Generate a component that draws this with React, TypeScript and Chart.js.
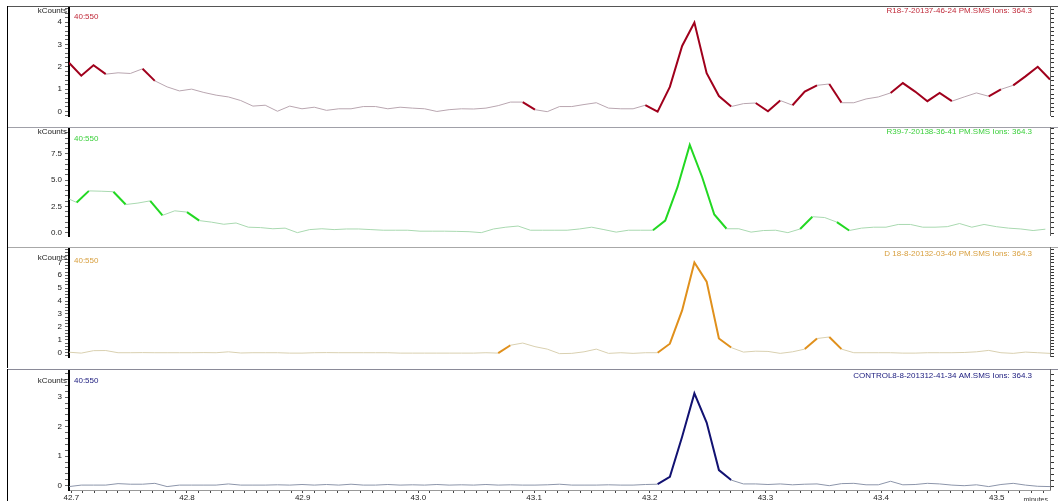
import React, { useEffect, useRef } from 'react';
import { Chart, registerables } from 'chart.js';

Chart.register(...registerables);

const FONT_FAMILY = '"Liberation Sans", Arial, sans-serif';

// Retention time (minutes) of each scan
const TIME_A = [
  42.6980, 42.7086, 42.7192, 42.7298, 42.7404, 42.7510, 42.7616, 42.7722, 42.7828, 42.7934,
  42.8040, 42.8146, 42.8252, 42.8358, 42.8464, 42.8570, 42.8676, 42.8782, 42.8888, 42.8994,
  42.9100, 42.9206, 42.9312, 42.9418, 42.9524, 42.9630, 42.9736, 42.9842, 42.9948, 43.0054,
  43.0160, 43.0266, 43.0372, 43.0478, 43.0584, 43.0690, 43.0796, 43.0902, 43.1008, 43.1114,
  43.1220, 43.1326, 43.1432, 43.1538, 43.1644, 43.1750, 43.1856, 43.1962, 43.2068, 43.2174,
  43.2280, 43.2386, 43.2492, 43.2598, 43.2704, 43.2810, 43.2916, 43.3022, 43.3128, 43.3234,
  43.3340, 43.3446, 43.3552, 43.3658, 43.3764, 43.3870, 43.3976, 43.4082, 43.4188, 43.4294,
  43.4400, 43.4506, 43.4612, 43.4718, 43.4824, 43.4930, 43.5036, 43.5142, 43.5248, 43.5354,
  43.5460,
];

const TIME_B = [
  42.6940, 42.7046, 42.7152, 42.7258, 42.7364, 42.7470, 42.7576, 42.7682, 42.7788, 42.7894,
  42.8000, 42.8106, 42.8212, 42.8318, 42.8424, 42.8530, 42.8636, 42.8742, 42.8848, 42.8954,
  42.9060, 42.9166, 42.9272, 42.9378, 42.9484, 42.9590, 42.9696, 42.9802, 42.9908, 43.0014,
  43.0120, 43.0226, 43.0332, 43.0438, 43.0544, 43.0650, 43.0756, 43.0862, 43.0968, 43.1074,
  43.1180, 43.1286, 43.1392, 43.1498, 43.1604, 43.1710, 43.1816, 43.1922, 43.2028, 43.2134,
  43.2240, 43.2346, 43.2452, 43.2558, 43.2664, 43.2770, 43.2876, 43.2982, 43.3088, 43.3194,
  43.3300, 43.3406, 43.3512, 43.3618, 43.3724, 43.3830, 43.3936, 43.4042, 43.4148, 43.4254,
  43.4360, 43.4466, 43.4572, 43.4678, 43.4784, 43.4890, 43.4996, 43.5102, 43.5208, 43.5314,
  43.5420,
];

// kCounts per trace
const R18_COUNTS = [
  2.18, 1.6, 2.07, 1.67, 1.73, 1.7, 1.91, 1.37, 1.1, 0.92,
  1.0, 0.85, 0.73, 0.65, 0.49, 0.24, 0.28, 0.01, 0.24, 0.12,
  0.19, 0.05, 0.12, 0.12, 0.22, 0.22, 0.12, 0.19, 0.15, 0.12,
  0.0, 0.08, 0.12, 0.11, 0.15, 0.26, 0.42, 0.42, 0.08, -0.01,
  0.22, 0.22, 0.31, 0.39, 0.15, 0.12, 0.12, 0.28, -0.01, 1.1,
  2.93, 3.98, 1.71, 0.69, 0.22, 0.35, 0.38, 0.01, 0.49, 0.28,
  0.89, 1.17, 1.23, 0.39, 0.39, 0.56, 0.65, 0.83, 1.27, 0.89,
  0.46, 0.83, 0.46, 0.65, 0.83, 0.68, 0.99, 1.17, 1.57, 2.0,
  1.43,
];

const R39_COUNTS = [
  3.4, 2.88, 3.98, 3.95, 3.9, 2.68, 2.82, 3.03, 1.65, 2.08,
  1.96, 1.15, 1.0, 0.8, 0.92, 0.52, 0.48, 0.37, 0.43, 0.0,
  0.29, 0.37, 0.29, 0.35, 0.35, 0.29, 0.23, 0.23, 0.23, 0.14,
  0.14, 0.14, 0.12, 0.09, 0.0, 0.35, 0.52, 0.63, 0.23, 0.23,
  0.23, 0.23, 0.35, 0.52, 0.29, 0.05, 0.23, 0.23, 0.23, 1.15,
  4.33, 8.36, 5.33, 1.73, 0.37, 0.37, 0.05, 0.2, 0.23, 0.0,
  0.35, 1.52, 1.44, 1.0, 0.2, 0.43, 0.52, 0.52, 0.78, 0.78,
  0.52, 0.52, 0.57, 0.87, 0.52, 0.78, 0.57, 0.43, 0.35, 0.2,
  0.33,
];

const D18_COUNTS = [
  0.04, -0.03, 0.16, 0.17, 0.0, 0.0, 0.01, 0.0, 0.0, 0.0,
  0.0, 0.01, 0.0, 0.07, -0.02, 0.0, 0.0, 0.0, -0.03, -0.03,
  0.0, 0.01, 0.0, 0.0, 0.0, 0.0, 0.0, -0.03, -0.03, -0.03,
  -0.03, -0.03, -0.03, -0.03, 0.0, -0.03, 0.58, 0.75, 0.47, 0.28,
  -0.07, -0.05, 0.07, 0.28, -0.05, 0.0, -0.05, 0.0, 0.0, 0.7,
  3.28, 6.99, 5.51, 1.1, 0.4, 0.05, 0.12, 0.1, -0.05, 0.07,
  0.28, 1.1, 1.22, 0.28, 0.0, 0.0, 0.0, 0.0, -0.03, -0.03,
  0.0, 0.0, 0.0, 0.02, 0.07, 0.18, 0.0, -0.05, 0.05, 0.0,
  -0.05,
];

const CONTROL_COUNTS = [
  -0.03, 0.02, 0.02, 0.02, 0.07, 0.05, 0.05, 0.08, -0.03, 0.02,
  0.02, 0.02, 0.02, 0.06, 0.02, 0.02, 0.02, 0.03, 0.02, 0.04,
  0.02, 0.04, 0.02, 0.05, 0.02, 0.02, 0.04, 0.02, 0.03, 0.02,
  0.04, 0.02, 0.03, 0.02, 0.04, 0.02, 0.03, 0.02, 0.02, 0.03,
  0.05, 0.02, 0.02, 0.02, 0.03, 0.02, 0.02, 0.04, 0.05, 0.3,
  1.66, 3.13, 2.14, 0.53, 0.19, 0.06, 0.06, 0.04, 0.06, 0.03,
  0.05, 0.06, 0.0, 0.07, 0.08, 0.03, 0.03, 0.15, 0.03, 0.04,
  0.08, 0.06, 0.02, 0.0, 0.03, -0.03, 0.04, 0.08, 0.02, -0.02,
  -0.03,
];

const X_TICK_LABELS = ['42.7', '42.8', '42.9', '43.0', '43.1', '43.2', '43.3', '43.4', '43.5'];
const TRACE_TITLES = [
  'R18-7-20137-46-24 PM.SMS Ions: 364.3',
  'R39-7-20138-36-41 PM.SMS Ions: 364.3',
  'D 18-8-20132-03-40 PM.SMS Ions: 364.3',
  'CONTROL8-8-201312-41-34 AM.SMS Ions: 364.3',
];
const MASS_LABEL = '40:550';
const Y_UNIT = 'kCounts';
const X_UNIT = 'minutes';

const X_MIN = 42.698;
const X_MAX = 43.546;

type PanelCfg = {
  times: number[];
  values: number[];
  title: string;
  dark: string;
  light: string;
  text: string;
  min: number;
  max: number;
  minor: number;
  major: number;
  maxLabel: number;
  dec: number;
  top: number;
  height: number;
  padTop: number;
  kDy: number;
  tagDy: number;
  titleDy: number;
  topLine: string;
  showX: boolean;
};

const PANELS: PanelCfg[] = [
  {
    times: TIME_A, values: R18_COUNTS, title: TRACE_TITLES[0],
    dark: '#a0001c', light: '#b9a6b0', text: '#c02a3a',
    min: -0.203, max: 4.675, minor: 0.2, major: 1, maxLabel: 4, dec: 0,
    top: 6, height: 121, padTop: 1, kDy: 4, tagDy: 10, titleDy: 4, topLine: '#555', showX: false,
  },
  {
    times: TIME_B, values: R39_COUNTS, title: TRACE_TITLES[1],
    dark: '#22d822', light: '#a9d9b0', text: '#3cd03c',
    min: -0.32, max: 10.07, minor: 0.5, major: 2.5, maxLabel: 7.5, dec: 1,
    top: 127, height: 120, padTop: 0, kDy: 5, tagDy: 12, titleDy: 5, topLine: '#a0a0a8', showX: false,
  },
  {
    times: TIME_A, values: D18_COUNTS, title: TRACE_TITLES[2],
    dark: '#e0901c', light: '#d9d0b0', text: '#d8a040',
    min: -0.331, max: 8.19, minor: 0.25, major: 1, maxLabel: 7, dec: 0,
    top: 247, height: 121, padTop: 0, kDy: 11, tagDy: 14, titleDy: 7, topLine: '#a8a8a8', showX: false,
  },
  {
    times: TIME_A, values: CONTROL_COUNTS, title: TRACE_TITLES[3],
    dark: '#121272', light: '#8c95aa', text: '#202080',
    min: -0.146, max: 3.956, minor: 0.2, major: 1, maxLabel: 3, dec: 0,
    top: 369, height: 132, padTop: 0, kDy: 12, tagDy: 12, titleDy: 7, topLine: '#8a8a98', showX: true,
  },
];

function isMultiple(v: number, step: number) {
  const q = v / step;
  return Math.abs(q - Math.round(q)) < 1e-6;
}

function decorPlugin(p: PanelCfg) {
  return {
    id: 'decor',
    afterDraw(chart: any) {
      const { ctx, chartArea: a, scales } = chart;
      const y = scales.y;
      ctx.save();
      // separator / frame
      ctx.fillStyle = p.topLine;
      ctx.fillRect(7, Math.max(0, a.top - 1), chart.width - 7, 1);
      ctx.fillStyle = '#000';
      ctx.fillRect(7, 0, 1, chart.height);
      // right axis with ticks
      ctx.fillStyle = '#666';
      ctx.fillRect(a.right, a.top, 1, a.bottom - a.top);
      ctx.fillStyle = '#333';
      for (const t of y.ticks) {
        const py = Math.round(y.getPixelForValue(t.value));
        ctx.fillRect(a.right + 1, py, 3, 1);
      }
      // texts
      ctx.font = `8px ${FONT_FAMILY}`;
      ctx.textBaseline = 'middle';
      ctx.fillStyle = '#222';
      ctx.textAlign = 'right';
      ctx.fillText(Y_UNIT, 67, a.top + p.kDy);
      ctx.fillStyle = p.text;
      ctx.textAlign = 'left';
      ctx.fillText(MASS_LABEL, 74, a.top + p.tagDy);
      ctx.textAlign = 'right';
      ctx.fillText(p.title, 1032, a.top + p.titleDy);
      if (p.showX) {
        ctx.fillStyle = '#333';
        ctx.font = `7px ${FONT_FAMILY}`;
        ctx.textAlign = 'right';
        ctx.textBaseline = 'top';
        ctx.fillText(X_UNIT, 1048, chart.height - 4);
      }
      ctx.restore();
    },
  };
}

function makeChart(canvas: HTMLCanvasElement, p: PanelCfg) {
  const steep = (c: any) =>
    Math.abs(c.p1.y - c.p0.y) > 0.5 * Math.max(1, Math.abs(c.p1.x - c.p0.x));
  return new Chart(canvas, {
    type: 'line',
    data: {
      datasets: [
        {
          data: p.times.map((t, i) => ({ x: t, y: p.values[i] })),
          borderColor: p.dark,
          borderWidth: 1,
          pointRadius: 0,
          tension: 0,
          fill: false,
          clip: { left: 0, right: 0, top: 2, bottom: 2 } as any,
          segment: {
            borderColor: (c: any) => (steep(c) ? p.dark : p.light),
            borderWidth: (c: any) => (steep(c) ? 2 : 1),
          },
        } as any,
      ],
    },
    options: {
      animation: false,
      responsive: false,
      events: [],
      layout: { padding: { left: 0, right: 8, top: p.padTop, bottom: 0 } },
      plugins: {
        legend: { display: false },
        tooltip: { enabled: false },
        title: { display: false },
      },
      scales: {
        x: {
          type: 'linear',
          display: p.showX,
          min: X_MIN,
          max: X_MAX,
          ticks: {
            stepSize: 0.01,
            includeBounds: false,
            autoSkip: false,
            maxRotation: 0,
            minRotation: 0,
            padding: 0,
            color: '#222',
            font: { size: 8, family: FONT_FAMILY },
            callback: (v: any) => {
              const n = Number(v);
              if (!isMultiple(n, 0.1)) return '';
              const s = (Math.round(n * 10) / 10).toFixed(1);
              return X_TICK_LABELS.includes(s) ? s : '';
            },
          },
          grid: { drawOnChartArea: false, drawTicks: true, tickLength: 3, color: '#444' },
          border: { display: true, color: '#999', width: 1 },
          afterFit: (s: any) => {
            s.height = 11;
            s.paddingLeft = 0;
            s.paddingRight = 0;
          },
        },
        y: {
          type: 'linear',
          min: p.min,
          max: p.max,
          ticks: {
            stepSize: p.minor,
            includeBounds: false,
            autoSkip: false,
            padding: 3,
            color: '#222',
            font: { size: 8, family: FONT_FAMILY },
            callback: (v: any) => {
              const n = Number(v);
              if (!isMultiple(n, p.major) || n > p.maxLabel + 1e-6) return '';
              return (Math.round(n / p.major) * p.major).toFixed(p.dec);
            },
          },
          grid: { drawOnChartArea: false, drawTicks: true, tickLength: 4, color: '#666' },
          border: { display: true, color: '#000', width: 2 },
          afterFit: (s: any) => {
            s.width = 69;
            s.paddingTop = 0;
            s.paddingBottom = 0;
          },
        },
      },
    } as any,
    plugins: [decorPlugin(p)],
  });
}

function Panel({ cfg }: { cfg: PanelCfg }) {
  const ref = useRef<HTMLCanvasElement | null>(null);
  useEffect(() => {
    if (!ref.current) return;
    const chart = makeChart(ref.current, cfg);
    return () => chart.destroy();
  }, [cfg]);
  return (
    <canvas
      ref={ref}
      width={1058}
      height={cfg.height}
      style={{ position: 'absolute', left: 0, top: cfg.top, width: 1058, height: cfg.height, display: 'block' }}
    />
  );
}

export default function App() {
  return (
    <div style={{ position: 'absolute', left: 0, top: 0, width: 1058, height: 501, background: '#fff', overflow: 'hidden' }}>
      {PANELS.map((p, i) => (
        <Panel key={i} cfg={p} />
      ))}
    </div>
  );
}
